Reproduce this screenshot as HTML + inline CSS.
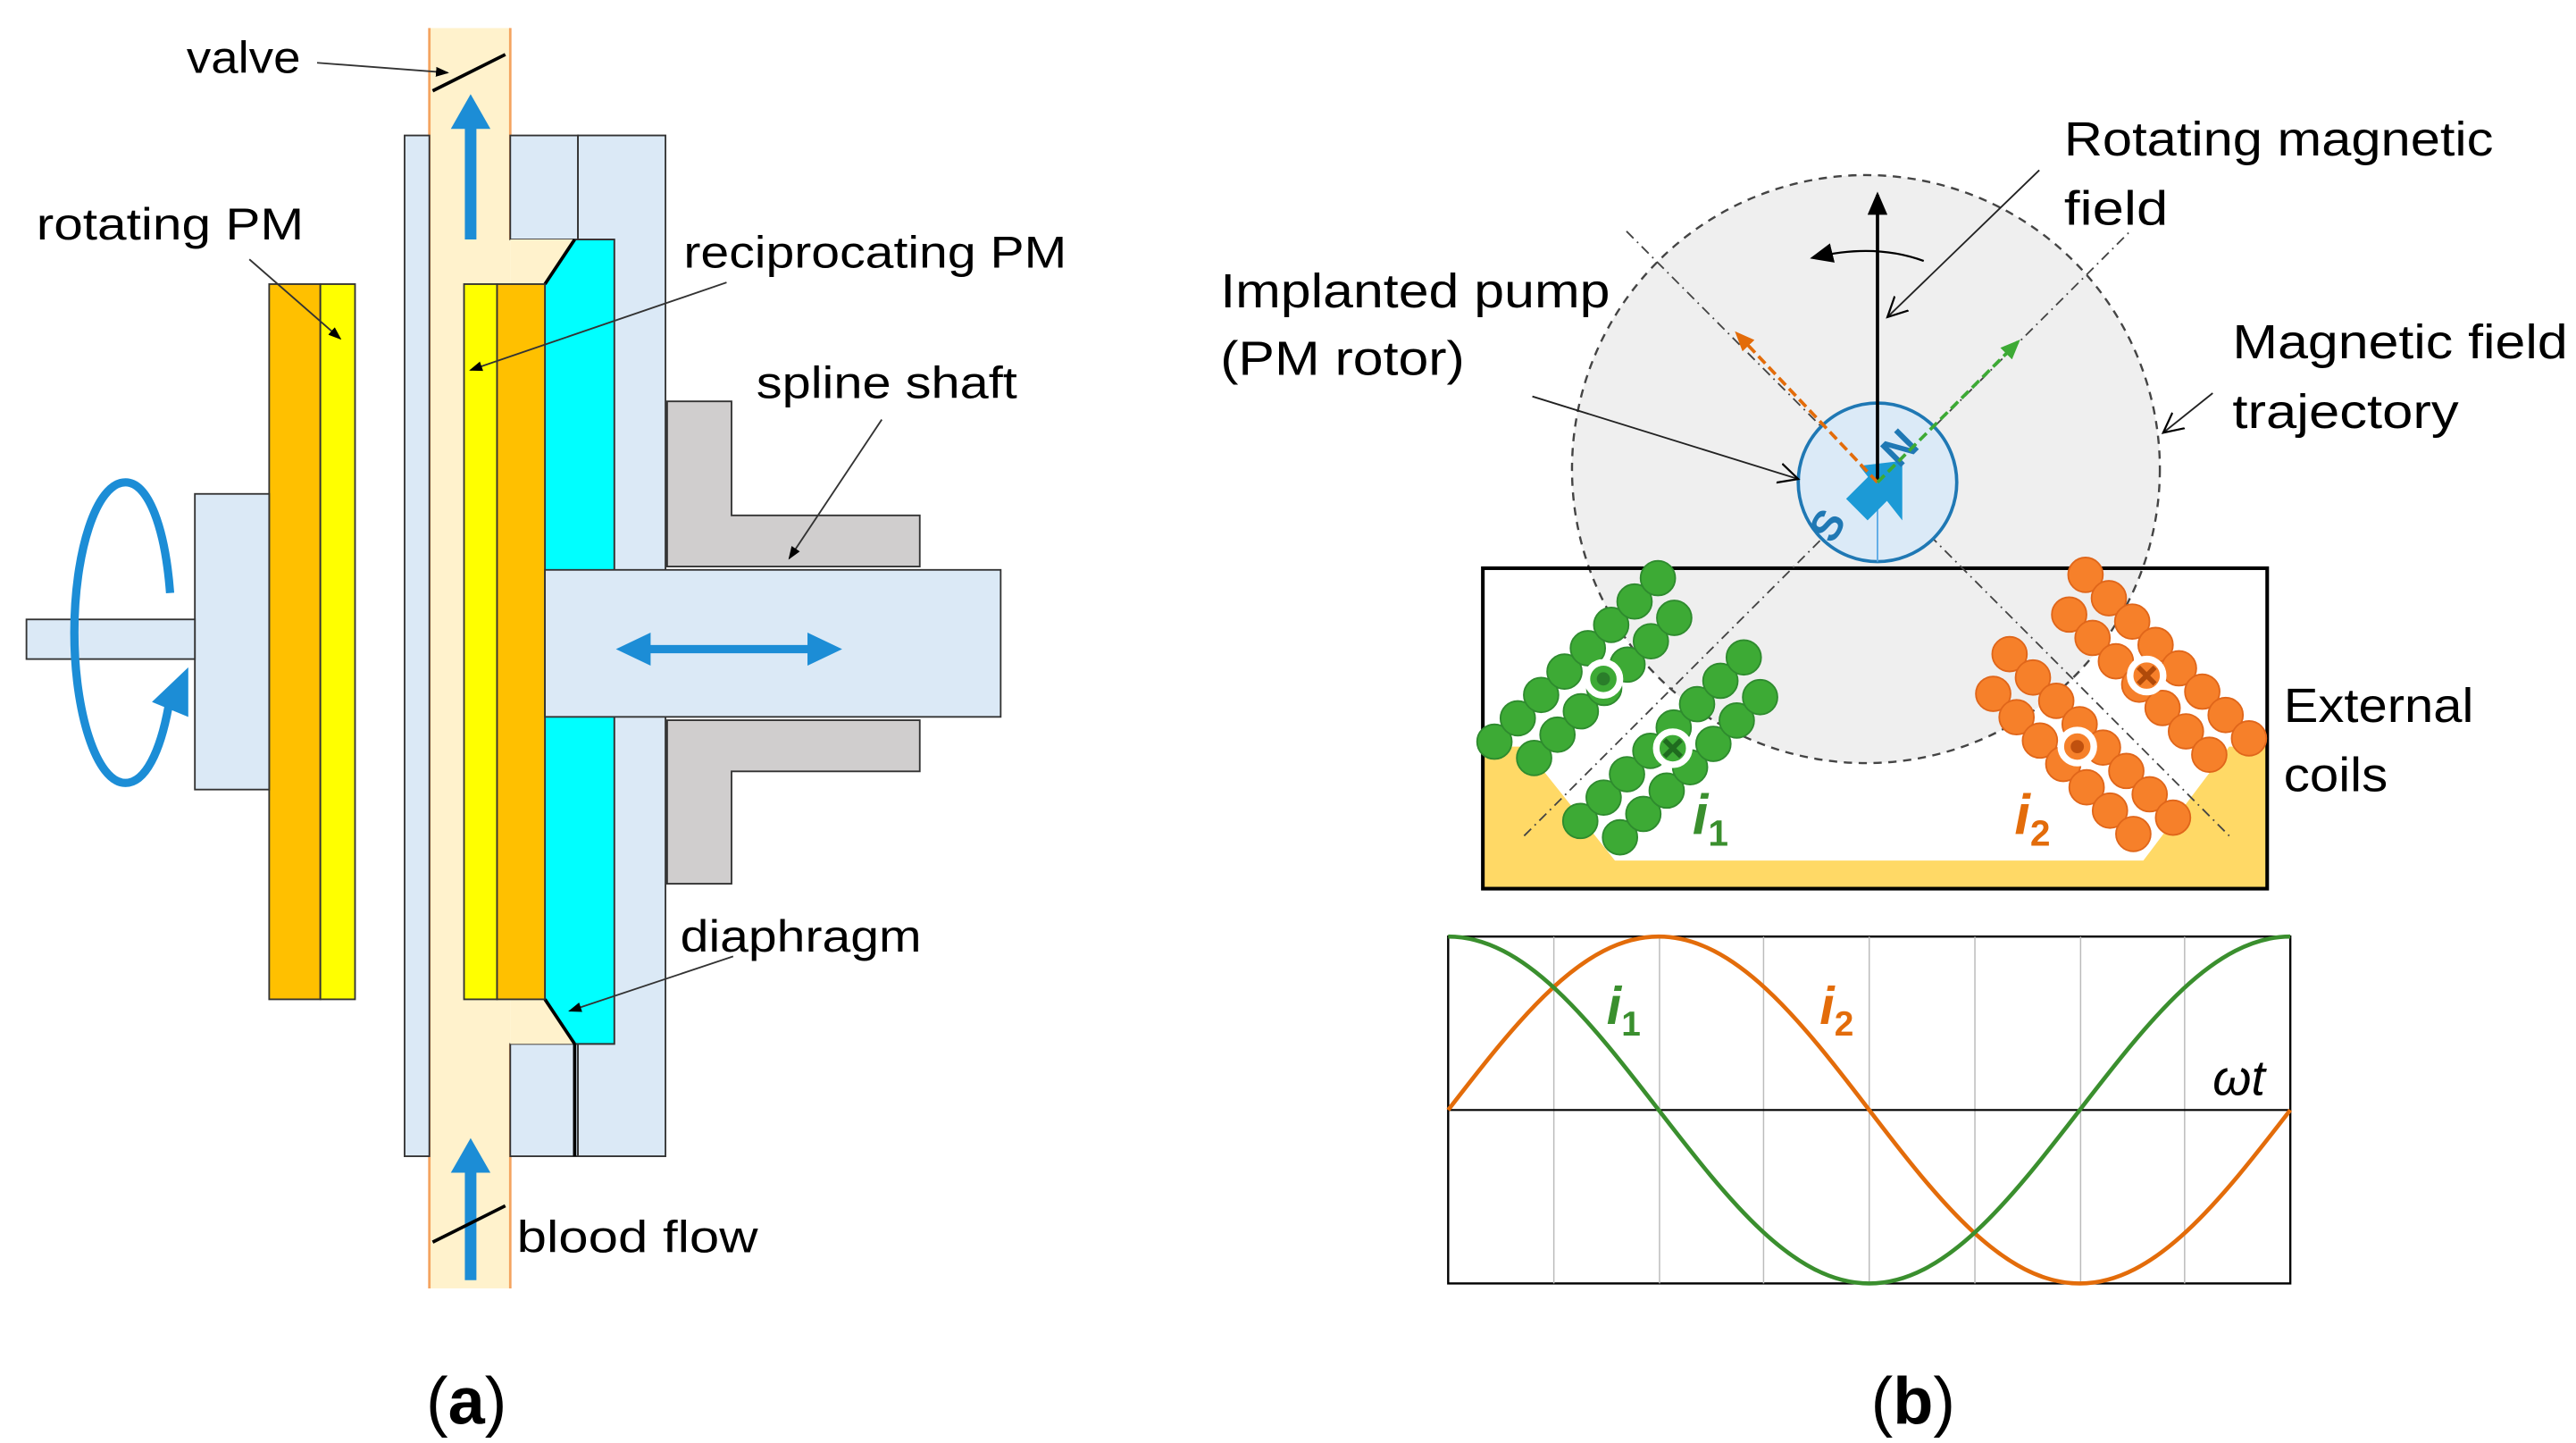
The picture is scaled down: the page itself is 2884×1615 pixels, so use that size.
<!DOCTYPE html>
<html><head><meta charset="utf-8"><style>
html,body{margin:0;padding:0;background:#fff;}
svg{display:block;}
text{font-family:"Liberation Sans","DejaVu Sans",sans-serif;}
</style></head><body>
<svg width="2884" height="1615" viewBox="0 0 1560 873.6" xmlns="http://www.w3.org/2000/svg">
<defs>
<marker id="ab" markerWidth="8" markerHeight="8" refX="7" refY="4" orient="auto" markerUnits="userSpaceOnUse"><path d="M0,1 L8,4 L0,7 z" fill="#000"/></marker>
<marker id="ao" markerWidth="12" markerHeight="10" refX="10" refY="5" orient="auto" markerUnits="userSpaceOnUse"><path d="M0,0 L12,5 L0,10 z" fill="#e36c0a"/></marker>
<marker id="ag" markerWidth="12" markerHeight="10" refX="10" refY="5" orient="auto" markerUnits="userSpaceOnUse"><path d="M0,0 L12,5 L0,10 z" fill="#3daa35"/></marker>
<marker id="ak" markerWidth="14" markerHeight="12" refX="12" refY="6" orient="auto" markerUnits="userSpaceOnUse"><path d="M0,0 L14,6 L0,12 z" fill="#000"/></marker>
<marker id="aopen" markerWidth="14" markerHeight="14" refX="12" refY="7" orient="auto" markerUnits="userSpaceOnUse"><path d="M0,1 L12,7 L0,13" fill="none" stroke="#000" stroke-width="1.2"/></marker>
<g id="cg">
<circle cx="-70" cy="-12" r="10.5"/><circle cx="-50" cy="-12" r="10.5"/><circle cx="-30" cy="-12" r="10.5"/><circle cx="-10" cy="-12" r="10.5"/><circle cx="10" cy="-12" r="10.5"/><circle cx="30" cy="-12" r="10.5"/><circle cx="50" cy="-12" r="10.5"/><circle cx="70" cy="-12" r="10.5"/>
<circle cx="-60" cy="12" r="10.5"/><circle cx="-40" cy="12" r="10.5"/><circle cx="-20" cy="12" r="10.5"/><circle cx="0" cy="12" r="10.5"/><circle cx="20" cy="12" r="10.5"/><circle cx="40" cy="12" r="10.5"/><circle cx="60" cy="12" r="10.5"/>
</g>
</defs>

<!-- ========== Panel (a) ========== -->
<rect x="260" y="17" width="49" height="763" fill="#fff2cc"/>
<line x1="260" y1="17" x2="260" y2="780" stroke="#f4a460" stroke-width="1.5"/>
<line x1="309" y1="17" x2="309" y2="145" stroke="#f4a460" stroke-width="1.5"/>
<line x1="309" y1="632" x2="309" y2="780" stroke="#f4a460" stroke-width="1.5"/>
<rect x="245" y="82" width="15" height="618" fill="#dbe9f6" stroke="#333" stroke-width="1"/>
<rect x="309" y="82" width="41" height="63" fill="#dbe9f6" stroke="#333" stroke-width="1"/>
<rect x="309" y="632" width="41" height="68" fill="#dbe9f6" stroke="#333" stroke-width="1"/>
<path d="M350,82 H403 V700 H350 V632 H372 V145 H350 Z" fill="#dbe9f6" stroke="#333" stroke-width="1"/>
<path d="M309,145 H348 L330,172 V605 L348,632 H309 Z" fill="#fff2cc"/>
<path d="M348,145 H372 V632 H348 L330,605 V172 Z" fill="#00ffff" stroke="#333" stroke-width="1"/>
<line x1="348" y1="145" x2="330" y2="172" stroke="#000" stroke-width="2"/>
<line x1="330" y1="605" x2="348" y2="632" stroke="#000" stroke-width="2"/>
<line x1="348" y1="632" x2="348" y2="700" stroke="#000" stroke-width="2"/>
<rect x="281" y="172" width="20" height="433" fill="#ffff00" stroke="#333" stroke-width="1"/>
<rect x="301" y="172" width="29" height="433" fill="#ffc000" stroke="#333" stroke-width="1"/>
<path d="M404,243 H443 V312 H557 V343 H404 Z" fill="#d0cece" stroke="#333" stroke-width="1"/>
<path d="M404,436 H557 V467 H443 V535 H404 Z" fill="#d0cece" stroke="#333" stroke-width="1"/>
<rect x="330" y="345" width="276" height="89" fill="#dbe9f6" stroke="#333" stroke-width="1"/>
<line x1="390" y1="393" x2="492" y2="393" stroke="#1c8dd6" stroke-width="5"/>
<path d="M373,393 L394,383 L394,403 Z" fill="#1c8dd6"/>
<path d="M510,393 L489,383 L489,403 Z" fill="#1c8dd6"/>
<rect x="163" y="172" width="31" height="433" fill="#ffc000" stroke="#333" stroke-width="1"/>
<rect x="194" y="172" width="21" height="433" fill="#ffff00" stroke="#333" stroke-width="1"/>
<rect x="118" y="299" width="45" height="179" fill="#dbe9f6" stroke="#333" stroke-width="1"/>
<rect x="16" y="375" width="102" height="24" fill="#dbe9f6" stroke="#333" stroke-width="1"/>
<path d="M103,359 C100,320 90,292 76,292 C58,292 45,335 45,383 C45,430 58,474 76,474 C88,474 97,455 102,428" fill="none" stroke="#1c8dd6" stroke-width="5"/>
<path d="M92,425 L114,404 L114,434 Z" fill="#1c8dd6"/>
<line x1="285" y1="145" x2="285" y2="75" stroke="#1c8dd6" stroke-width="7"/>
<path d="M273,78 L285,57 L297,78 Z" fill="#1c8dd6"/>
<line x1="285" y1="775" x2="285" y2="707" stroke="#1c8dd6" stroke-width="7"/>
<path d="M273,710 L285,689 L297,710 Z" fill="#1c8dd6"/>
<line x1="262" y1="55" x2="306" y2="33" stroke="#000" stroke-width="2"/>
<line x1="262" y1="752" x2="306" y2="730" stroke="#000" stroke-width="2"/>
<g font-size="27" fill="#000">
<text x="113" y="44" textLength="69" lengthAdjust="spacingAndGlyphs">valve</text>
<text x="22" y="145" textLength="162" lengthAdjust="spacingAndGlyphs">rotating PM</text>
<text x="414" y="162" textLength="232" lengthAdjust="spacingAndGlyphs">reciprocating PM</text>
<text x="458" y="241" textLength="158" lengthAdjust="spacingAndGlyphs">spline shaft</text>
<text x="412" y="576" textLength="146" lengthAdjust="spacingAndGlyphs">diaphragm</text>
<text x="313" y="758" textLength="146" lengthAdjust="spacingAndGlyphs">blood flow</text>
</g>
<g stroke="#333" stroke-width="1" fill="none">
<line x1="192" y1="38" x2="271" y2="44" marker-end="url(#ab)"/>
<line x1="151" y1="157" x2="206" y2="205" marker-end="url(#ab)"/>
<line x1="440" y1="171" x2="285" y2="224" marker-end="url(#ab)"/>
<line x1="534" y1="254" x2="478" y2="338" marker-end="url(#ab)"/>
<line x1="444" y1="579" x2="345" y2="612" marker-end="url(#ab)"/>
</g>
<text x="258" y="862" font-family="Liberation Serif,serif" font-size="40" fill="#000"><tspan>(</tspan><tspan font-weight="bold">a</tspan><tspan>)</tspan></text>

<!-- ========== Panel (b) ========== -->
<circle cx="1130" cy="284" r="178" fill="#efefef" stroke="#444" stroke-width="1.3" stroke-dasharray="5,4"/>
<clipPath id="boxc"><rect x="898" y="344" width="475" height="194"/></clipPath>
<g clip-path="url(#boxc)">
<rect x="898" y="344" width="475" height="194" fill="#fff"/>
<circle cx="1130" cy="284" r="178" fill="#efefef" stroke="#444" stroke-width="1.3" stroke-dasharray="5,4"/>
<path d="M898,452 H923 L978,521 H1298 L1350,452 H1373 V538 H898 Z" fill="#ffd966"/>
</g>
<rect x="898" y="344" width="475" height="194" fill="none" stroke="#000" stroke-width="2.2"/>
<g stroke="#444" stroke-width="1" stroke-dasharray="6,3,1,3" fill="none">
<line x1="923" y1="506" x2="1290" y2="140"/>
<line x1="985" y1="140" x2="1350" y2="506"/>
</g>
<g fill="#3daa35" stroke="#2e8b2e" stroke-width="1">
<use href="#cg" transform="translate(963,408) rotate(-45)"/>
<use href="#cg" transform="translate(1015,456) rotate(-45)"/>
</g>
<g fill="#f6802a" stroke="#e0661a" stroke-width="1">
<use href="#cg" transform="translate(1304,406) rotate(45)"/>
<use href="#cg" transform="translate(1258,454) rotate(45)"/>
</g>
<circle cx="971" cy="411" r="10" fill="#3daa35" stroke="#fff" stroke-width="4"/><circle cx="971" cy="411" r="4" fill="#2a7d2a"/>
<circle cx="1013" cy="453" r="10" fill="#3daa35" stroke="#fff" stroke-width="4"/>
<path d="M1008,448 L1018,458 M1018,448 L1008,458" stroke="#1f6b1f" stroke-width="3"/>
<circle cx="1300" cy="409" r="10" fill="#f6802a" stroke="#fff" stroke-width="4"/>
<path d="M1295,404 L1305,414 M1305,404 L1295,414" stroke="#b04a0a" stroke-width="3"/>
<circle cx="1258" cy="452" r="10" fill="#f6802a" stroke="#fff" stroke-width="4"/><circle cx="1258" cy="452" r="4" fill="#c0500e"/>
<g font-family="Liberation Serif,serif" font-style="italic" font-weight="bold" font-size="34">
<text x="1025" y="505" fill="#3a8f2e">i<tspan font-style="normal" font-size="22" dy="7">1</tspan></text>
<text x="1220" y="505" fill="#e36c0a">i<tspan font-style="normal" font-size="22" dy="7">2</tspan></text>
</g>
<circle cx="1137" cy="292" r="48" fill="#dbeaf7" stroke="#1f78b4" stroke-width="2"/>
<line x1="1137" y1="292" x2="1137" y2="340" stroke="#5aa9e6" stroke-width="1"/>
<path d="M1118,302 L1136,284 L1149,297 L1131,315 Z" fill="#1c9ad6"/>
<path d="M1126,282 L1152,279 L1152,315 Z" fill="#1c9ad6"/>
<text x="1150" y="284" font-size="26" font-weight="bold" fill="#1f78b4" transform="rotate(-45 1150 284)">N</text>
<text x="1110" y="330" font-size="26" font-weight="bold" fill="#1f78b4" transform="rotate(-60 1110 330)">S</text>
<line x1="1137" y1="292" x2="1137" y2="118" stroke="#000" stroke-width="2" marker-end="url(#ak)"/>
<line x1="1137" y1="292" x2="1052" y2="202" stroke="#e36c0a" stroke-width="2" stroke-dasharray="6,3" marker-end="url(#ao)"/>
<line x1="1137" y1="292" x2="1222" y2="207" stroke="#3daa35" stroke-width="2" stroke-dasharray="6,3" marker-end="url(#ag)"/>
<path d="M1165,158 Q1135,147 1098,156" fill="none" stroke="#000" stroke-width="1.2" marker-end="url(#ak)"/>
<line x1="1235" y1="103" x2="1143" y2="192" stroke="#222" stroke-width="1" marker-end="url(#aopen)"/>
<line x1="928" y1="240" x2="1089" y2="290" stroke="#222" stroke-width="1" marker-end="url(#aopen)"/>
<line x1="1340" y1="238" x2="1310" y2="262" stroke="#222" stroke-width="1" marker-end="url(#aopen)"/>
<g font-size="29" fill="#000">
<text x="1250" y="94" textLength="260" lengthAdjust="spacingAndGlyphs">Rotating magnetic</text>
<text x="1250" y="136" textLength="63" lengthAdjust="spacingAndGlyphs">field</text>
<text x="739" y="186" textLength="236" lengthAdjust="spacingAndGlyphs">Implanted pump</text>
<text x="739" y="227" textLength="148" lengthAdjust="spacingAndGlyphs">(PM rotor)</text>
<text x="1352" y="217" textLength="203" lengthAdjust="spacingAndGlyphs">Magnetic field</text>
<text x="1352" y="259" textLength="137" lengthAdjust="spacingAndGlyphs">trajectory</text>
<text x="1383" y="437" textLength="115" lengthAdjust="spacingAndGlyphs">External</text>
<text x="1383" y="479" textLength="63" lengthAdjust="spacingAndGlyphs">coils</text>
</g>
<rect x="877" y="567" width="510" height="210" fill="#fff" stroke="#000" stroke-width="1.3"/>
<g stroke="#bbb" stroke-width="0.8">
<line x1="941" y1="567" x2="941" y2="777"/><line x1="1005" y1="567" x2="1005" y2="777"/><line x1="1068" y1="567" x2="1068" y2="777"/>
<line x1="1132" y1="567" x2="1132" y2="777"/><line x1="1196" y1="567" x2="1196" y2="777"/><line x1="1260" y1="567" x2="1260" y2="777"/><line x1="1323" y1="567" x2="1323" y2="777"/>
</g>
<line x1="877" y1="672" x2="1387" y2="672" stroke="#000" stroke-width="1.2"/>
<path d="M877,672 C919.6,616.9 958.6,567 1004.5,567 S1089.9,616.9 1132,672 S1213.6,777 1259.5,777 S1344.4,727.1 1387,672" fill="none" stroke="#e36c0a" stroke-width="2.5"/>
<path d="M877,567 C922.9,567 961.9,616.9 1004.5,672 S1086.1,777 1132,777 S1216.9,727.1 1259.5,672 S1341.1,567 1387,567" fill="none" stroke="#3a8f2e" stroke-width="2.5"/>
<g font-family="Liberation Serif,serif" font-style="italic" font-weight="bold" font-size="32">
<text x="973" y="620" fill="#3a8f2e">i<tspan font-style="normal" font-size="21" dy="7">1</tspan></text>
<text x="1102" y="620" fill="#e36c0a">i<tspan font-style="normal" font-size="21" dy="7">2</tspan></text>
</g>
<text x="1340" y="663" font-family="Liberation Serif,serif" font-style="italic" font-size="30" fill="#000">ωt</text>
<text x="1133" y="862" font-family="Liberation Serif,serif" font-size="40" fill="#000"><tspan>(</tspan><tspan font-weight="bold">b</tspan><tspan>)</tspan></text>
</svg>
</body></html>
